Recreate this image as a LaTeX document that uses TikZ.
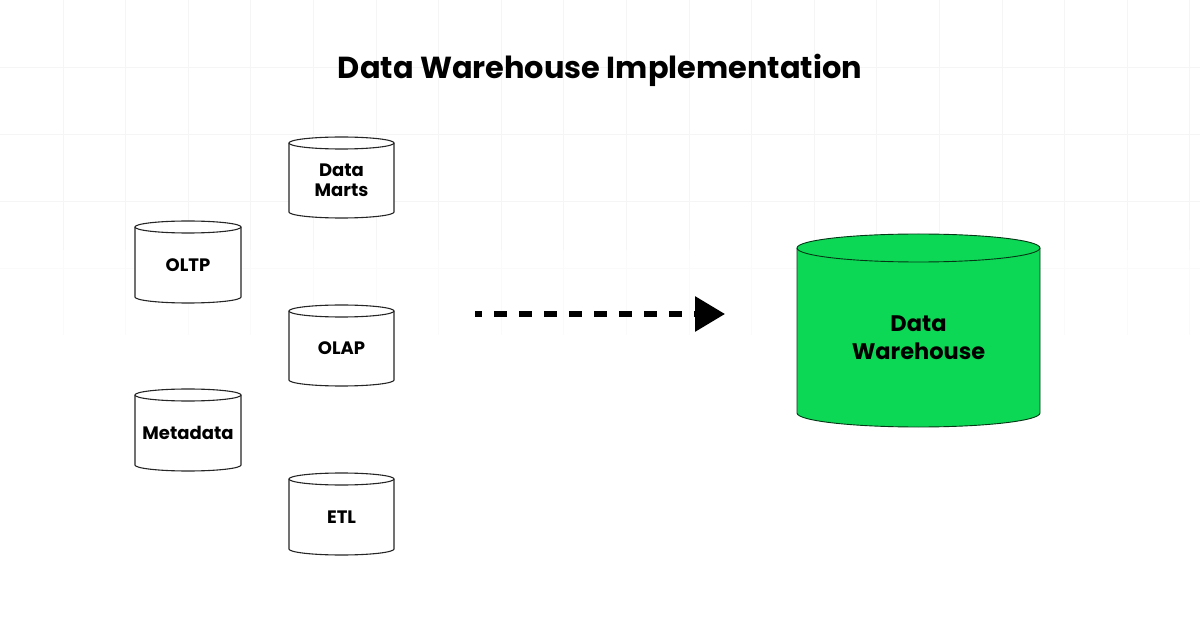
\documentclass[tikz,border=0pt]{standalone}
\usepackage{fontspec}
\setmainfont{Poppins}
\usetikzlibrary{arrows.meta}
\definecolor{dwgreen}{RGB}{13,216,86}
\definecolor{gridgray}{RGB}{245,245,245}
\definecolor{gridfade}{RGB}{250,250,250}
\tikzset{
  smallcyl/.style={draw=black!85, line width=1.1pt, fill=white},
  bigcyl/.style={draw=black!75!dwgreen, line width=0.9pt, fill=dwgreen},
  cyltext/.style={font=\bfseries\fontsize{18}{20}\selectfont, align=center, inner sep=0pt},
  bigtext/.style={font=\bfseries\fontsize{22.5}{28}\selectfont, align=center, inner sep=0pt},
  titletext/.style={font=\bfseries\fontsize{30.4}{36}\selectfont, inner sep=0pt},
  gridline/.style={draw=gridgray, line width=0.8pt},
  gridfadeline/.style={draw=gridfade, line width=0.8pt},
  flowarrow/.style={line width=6pt, dash pattern=on 13pt off 12pt, dash phase=6pt,
    -{Triangle[length=30pt,width=34pt]}}
}
% #1 name, #2 left, #3 top, #4 width, #5 bottom, #6 ry, #7 style, #8 text style, #9 text
\newcommand\dbcyl[9]{%
  \path[#7] (#2,#3+#6) -- (#2,#5-#6)
     arc[start angle=180,end angle=0,x radius=#4/2,y radius=#6]
     -- (#2+#4,#3+#6)
     arc[start angle=0,end angle=-180,x radius=#4/2,y radius=#6] -- cycle;
  \draw[#7, fill=none] (#2,#3+#6) arc[start angle=180,end angle=0,x radius=#4/2,y radius=#6];
  \node[#8] (#1) at ({#2+#4/2},{(#3+2*#6+#5)/2-3}) {#9};
}
\begin{document}
\begin{tikzpicture}[x=1pt,y=-1pt]
  \useasboundingbox[fill=white] (0,0) rectangle (1200,628);
  % faint background grid
  \foreach \gx in {0,...,18} {
    \draw[gridline] ({63+62.6*\gx},0) -- ({63+62.6*\gx},250);
    \draw[gridfadeline] ({63+62.6*\gx},250) -- ({63+62.6*\gx},335);
  }
  \foreach \gy in {67,134,201} {
    \draw[gridline] (0,\gy) -- (1200,\gy);
  }
  \draw[gridfadeline] (0,268) -- (1200,268);
  % title
  \node[titletext] (title) at (600,70) {Data Warehouse Implementation};
  % source cylinders
  \dbcyl{marts}{289}{137}{105}{218}{6}{smallcyl}{cyltext}{Data\\Marts}
  \dbcyl{oltp}{135}{221}{106}{303}{6}{smallcyl}{cyltext}{OLTP}
  \dbcyl{olap}{289}{305}{105}{386}{6}{smallcyl}{cyltext}{OLAP}
  \dbcyl{meta}{135}{389}{106}{471}{6}{smallcyl}{cyltext}{Metadata}
  \dbcyl{etl}{289}{473}{105}{555}{6}{smallcyl}{cyltext}{ETL}
  % data warehouse
  \path[bigcyl] (797,248) -- (797,413)
     arc[start angle=180,end angle=0,x radius=121.5,y radius=14]
     -- (1040,248)
     arc[start angle=0,end angle=-180,x radius=121.5,y radius=14] -- cycle;
  \draw[bigcyl, fill=none] (797,248) arc[start angle=180,end angle=0,x radius=121.5,y radius=14];
  \node[bigtext] (dw) at (918.5,338) {Data\\Warehouse};
  % arrow
  \coordinate (arrowstart) at (475,314);
  \coordinate (arrowtip) at (725,314);
  \draw[flowarrow] (arrowstart) -- (arrowtip);
\end{tikzpicture}
\end{document}
